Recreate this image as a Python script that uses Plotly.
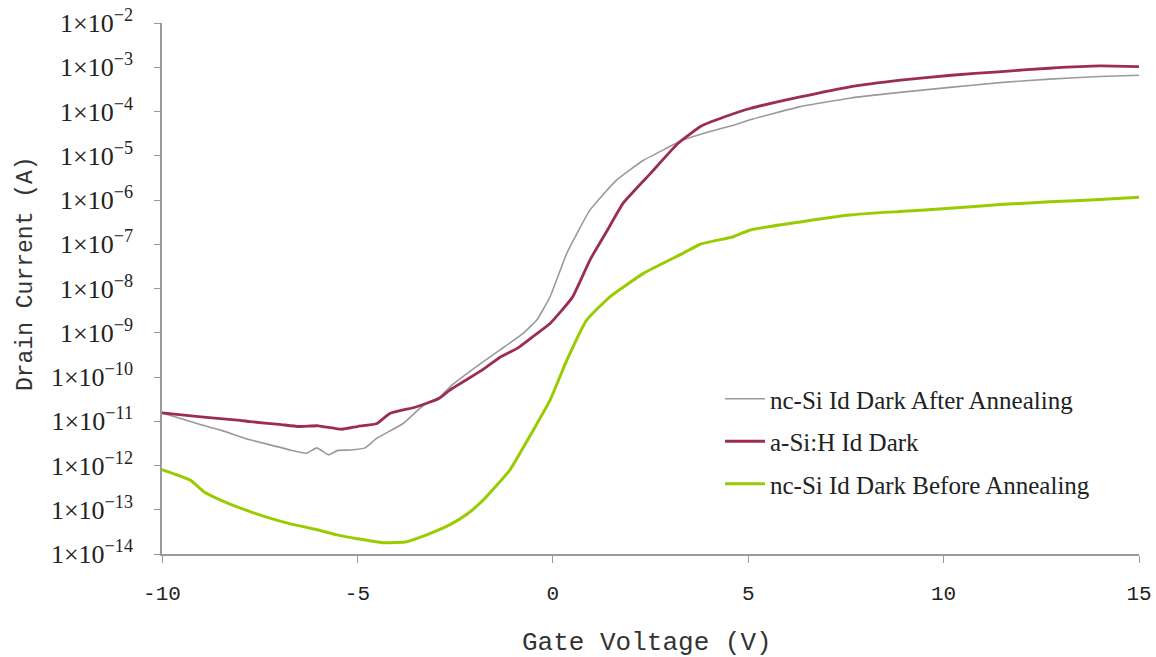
import plotly.graph_objects as go

# Gate voltage sweep (V) and drain current (A) for each device
v_after = [-10, -9, -8.5, -7.75, -7, -6.72, -6.3, -6.04, -5.74, -5.5, -5.19, -4.8, -4.51,
           -3.83, -3.31, -2.9, -2.63, -2.0, -1.35, -0.75, -0.4, -0.07, 0.36, 0.95, 1.63,
           2.32, 2.91, 3.34, 4.0, 4.62, 5.05, 6.33, 7.6, 8.88, 10.16, 11.44, 12.72, 14.0, 15]
i_after = [1.55e-11, 8.3e-12, 6.3e-12, 3.8e-12, 2.6e-12, 2.24e-12, 1.9e-12, 2.5e-12, 1.74e-12,
           2.2e-12, 2.24e-12, 2.5e-12, 4.1e-12, 8.9e-12, 2.3e-11, 3.5e-11, 6.0e-11, 1.6e-10,
           4.1e-10, 9.8e-10, 2.0e-9, 6.5e-9, 6.3e-8, 5.9e-7, 2.8e-6, 7.9e-6, 1.48e-5, 2.3e-5,
           3.5e-5, 4.9e-5, 6.5e-5, 1.29e-4, 2.0e-4, 2.7e-4, 3.5e-4, 4.5e-4, 5.4e-4, 6.2e-4, 6.6e-4]

v_asi = [-10, -9, -8, -7.75, -7, -6.5, -6, -5.4, -5, -4.5, -4.17, -3.5, -2.9, -2.63, -1.8,
         -1.35, -0.9, -0.5, -0.07, 0.5, 0.95, 1.4, 1.8, 2.5, 3.2, 3.8, 4.4, 5.05, 6.3, 7.6,
         8.9, 10.2, 11.4, 12.7, 14, 15]
i_asi = [1.55e-11, 1.26e-11, 1.05e-11, 9.8e-12, 8.5e-12, 7.6e-12, 7.9e-12, 6.6e-12, 7.6e-12,
         8.9e-12, 1.5e-11, 2.1e-11, 3.3e-11, 5.1e-11, 1.45e-10, 2.8e-10, 4.5e-10, 8.3e-10,
         1.62e-9, 6.3e-9, 4.4e-8, 2.1e-7, 8.5e-7, 4.0e-6, 1.9e-5, 4.7e-5, 7.6e-5, 1.17e-4,
         2.1e-4, 3.6e-4, 5.1e-4, 6.6e-4, 7.9e-4, 9.5e-4, 1.07e-3, 1.03e-3]

v_before = [-10, -9.28, -8.94, -8.5, -7.75, -7, -6.72, -6, -5.53, -5, -4.34, -3.74, -3.23,
            -2.63, -2.2, -1.78, -1.1, -0.5, -0.07, 0.36, 0.87, 1.46, 2.32, 3.34, 3.77, 4.62,
            5.05, 6.33, 7.6, 8.88, 10.16, 11.44, 12.72, 14.0, 15]
i_before = [8.1e-13, 4.7e-13, 2.6e-13, 1.66e-13, 9.1e-14, 5.6e-14, 4.8e-14, 3.5e-14, 2.7e-14,
            2.2e-14, 1.8e-14, 1.9e-14, 2.7e-14, 4.6e-14, 7.9e-14, 1.66e-13, 7.9e-13, 6.3e-12,
            3.0e-11, 2.4e-10, 1.95e-9, 6.5e-9, 2.2e-8, 6.3e-8, 1.0e-7, 1.48e-7, 2.1e-7,
            3.2e-7, 4.6e-7, 5.5e-7, 6.5e-7, 7.9e-7, 9.1e-7, 1.02e-6, 1.15e-6]

x_ticks = [-10, -5, 0, 5, 10, 15]
x_ticktext = ["-10", "-5", "0", "5", "10", "15"]
y_exponents = list(range(-14, -1))
y_tickvals = [10.0 ** e for e in y_exponents]
y_ticktext = ["1×10<sup>−%d</sup>" % -e for e in y_exponents]

serif = "Liberation Serif, Times New Roman, serif"
mono = "Liberation Mono, DejaVu Sans Mono, monospace"

fig = go.Figure()
fig.add_trace(go.Scatter(x=v_after, y=i_after, mode="lines", name="nc-Si Id Dark After Annealing",
                         line=dict(color="#9a9a9a", width=1.6, shape="spline", smoothing=0.4),
                         legendgroup="a"))
fig.add_trace(go.Scatter(x=v_asi, y=i_asi, mode="lines", name="a-Si:H Id Dark",
                         line=dict(color="#9b2c58", width=2.8, shape="spline", smoothing=0.4),
                         legendgroup="b"))
fig.add_trace(go.Scatter(x=v_before, y=i_before, mode="lines", name="nc-Si Id Dark Before Annealing",
                         line=dict(color="#99cc00", width=3, shape="spline", smoothing=0.4),
                         legendgroup="c"))

L, R, T, B = 162, 17, 23, 103
pw = 1156 - L - R
ph = 657 - T - B

axis_line = "#9a9a9a"
fig.update_layout(
    width=1156, height=657,
    margin=dict(l=L, r=R, t=T, b=B, autoexpand=False),
    paper_bgcolor="white", plot_bgcolor="white",
    showlegend=True,
    legend=dict(x=(720 - L) / pw, y=(554 - 376) / ph, xanchor="left", yanchor="top",
                font=dict(family=serif, size=25, color="#222"),
                bgcolor="rgba(255,255,255,0)", tracegroupgap=7, itemwidth=40),
    xaxis=dict(range=[-10, 15], tickvals=x_ticks, ticktext=x_ticktext, showgrid=False,
               zeroline=False, automargin=False,
               showline=True, linecolor=axis_line, linewidth=1.5,
               ticks="outside", ticklen=7, tickcolor=axis_line, ticklabelstandoff=12,
               tickfont=dict(family=mono, size=21, color="#222")),
    yaxis=dict(type="log", range=[-14, -2], tickvals=y_tickvals, ticktext=y_ticktext,
               showgrid=False, zeroline=False, automargin=False, showline=True,
               linecolor=axis_line, linewidth=1.5, ticks="outside", ticklen=6,
               tickcolor=axis_line, ticklabelstandoff=16,
               tickfont=dict(family=serif, size=26, color="#222")),
    annotations=[
        dict(text="Gate Voltage (V)", x=(647 - L) / pw, y=-(643 - 554) / ph,
             xref="paper", yref="paper", xanchor="center", yanchor="middle",
             showarrow=False, font=dict(family=mono, size=26, color="#333")),
        dict(text="Drain Current (A)", x=-(L - 26) / pw, y=(554 - 274) / ph,
             xref="paper", yref="paper", xanchor="center", yanchor="middle",
             showarrow=False, textangle=-90, font=dict(family=mono, size=23, color="#333")),
    ],
)

fig.write_html("out.html")
